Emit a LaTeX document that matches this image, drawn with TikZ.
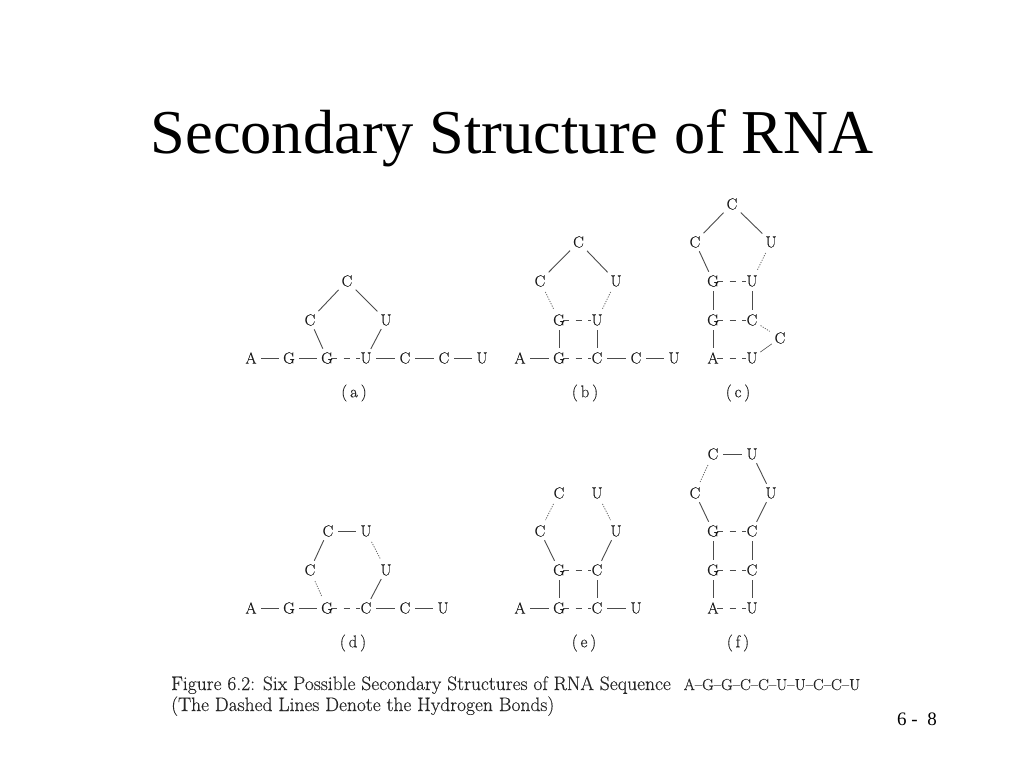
\documentclass[tikz,border=0pt]{standalone}
\usepackage{fontspec}
\newfontfamily\titlefont{Liberation Serif}
\newfontfamily\figfont[FakeBold=0.45,Ligatures=TeX]{Latin Modern Roman}
\newfontfamily\captfont[FakeBold=0.3,Ligatures=TeX]{Latin Modern Roman}
\tikzset{
  base/.style={circle,minimum size=20pt,inner sep=0pt,text=black!90,font=\figfont\fontsize{16}{16}\selectfont},
  lab/.style={inner sep=0pt,text=black!85,font=\captfont\fontsize{17}{17}\selectfont},
  capt/.style={inner sep=0pt,text=black!85,anchor=base west,font=\captfont\fontsize{19.5}{19.5}\selectfont},
  bond/.style={draw=black!70,line width=0.9pt},
  diag/.style={bond,shorten <=2pt,shorten >=2pt},
  hbond/.style={draw=black!70,line width=0.9pt,dash pattern=on 6pt off 6.5pt,shorten <=-6pt,shorten >=-4pt},
  dotbond/.style={draw=black!60,line width=0.8pt,dash pattern=on 1.2pt off 1.3pt,shorten <=2pt,shorten >=2pt}
}
\begin{document}
\begin{tikzpicture}[x=1pt,y=-1pt]
\useasboundingbox[fill=white] (0,0) rectangle (1024,768);
\node[inner sep=0pt,font=\titlefont\fontsize{62.4}{62.4}\selectfont] (title) at (512,138) {Secondary Structure of RNA};
% (a)
\foreach \n/\t/\x/\y in {at/C/347/281,al/C/310/320,ar/U/386/320,a1/A/251/358,a2/G/289/358,a3/G/327/358,a4/U/366/358,a5/C/405/358,a6/C/444/358,a7/U/482/358}
  \node[base] (\n) at (\x,\y) {\t};
\draw[diag] (at)--(al); \draw[diag] (at)--(ar); \draw[bond] (al)--(a3); \draw[bond] (ar)--(a4);
\draw[bond] (a1)--(a2); \draw[bond] (a2)--(a3); \draw[hbond] (a3)--(a4); \draw[bond] (a4)--(a5); \draw[bond] (a5)--(a6); \draw[bond] (a6)--(a7);
\node[lab] (la) at (354,393) {(\,a\,)};
% (b)
\foreach \n/\t/\x/\y in {bt/C/578.5/242,bl/C/540/281,br/U/616/281,bg/G/559/320,bu/U/597/320,b1/A/520/358,b2/G/559/358,b3/C/597/358,b4/C/636/358,b5/U/674/358}
  \node[base] (\n) at (\x,\y) {\t};
\draw[diag] (bt)--(bl); \draw[diag] (bt)--(br); \draw[dotbond] (bl)--(bg); \draw[dotbond] (br)--(bu);
\draw[hbond] (bg)--(bu); \draw[bond] (bg)--(b2); \draw[bond] (bu)--(b3);
\draw[bond] (b1)--(b2); \draw[hbond] (b2)--(b3); \draw[bond] (b3)--(b4); \draw[bond] (b4)--(b5);
\node[lab] (lb) at (585,393) {(\,b\,)};
% (c)
\foreach \n/\t/\x/\y in {ct/C/732/204,cl/C/695/242,cr/U/771/242,cg/G/713/281,cu/U/752/281,ch/G/713/320,cc/C/752/320,cx/C/780/338,ca/A/713/358,cb/U/752/358}
  \node[base] (\n) at (\x,\y) {\t};
\draw[diag] (ct)--(cl); \draw[diag] (ct)--(cr); \draw[bond] (cl)--(cg); \draw[dotbond] (cr)--(cu);
\draw[hbond] (cg)--(cu); \draw[bond] (cg)--(ch); \draw[bond] (cu)--(cc); \draw[hbond] (ch)--(cc);
\draw[bond] (ch)--(ca); \draw[hbond] (ca)--(cb);
\draw[dotbond,shorten <=0pt,shorten >=2pt] (cc)--(cx); \draw[bond,line width=0.6pt] (cx)--(cb);
\node[lab] (lc) at (738,393) {(\,c\,)};
% (d)
\foreach \n/\t/\x/\y in {dp/C/328/531,dq/U/366/531,dl/C/310/570,dr/U/386/570,d1/A/251/608,d2/G/289/608,d3/G/327/608,d4/C/366/608,d5/C/405/608,d6/U/443/608}
  \node[base] (\n) at (\x,\y) {\t};
\draw[bond] (dp)--(dq); \draw[bond] (dp)--(dl); \draw[dotbond] (dq)--(dr); \draw[dotbond] (dl)--(d3); \draw[bond] (dr)--(d4);
\draw[bond] (d1)--(d2); \draw[bond] (d2)--(d3); \draw[hbond] (d3)--(d4); \draw[bond] (d4)--(d5); \draw[bond] (d5)--(d6);
\node[lab] (ld) at (353,643) {(\,d\,)};
% (e)
\foreach \n/\t/\x/\y in {ep/C/559/493,eq/U/597/493,el/C/540/531,er/U/616/531,eg/G/559/570,ec/C/597/570,e1/A/520/608,e2/G/559/608,e3/C/597/608,e4/U/636/608}
  \node[base] (\n) at (\x,\y) {\t};
\draw[dotbond] (ep)--(el); \draw[dotbond] (eq)--(er); \draw[bond] (el)--(eg); \draw[bond] (er)--(ec);
\draw[hbond] (eg)--(ec); \draw[bond] (eg)--(e2); \draw[bond] (ec)--(e3);
\draw[bond] (e1)--(e2); \draw[hbond] (e2)--(e3); \draw[bond] (e3)--(e4);
\node[lab] (le) at (584,643) {(\,e\,)};
% (f)
\foreach \n/\t/\x/\y in {fp/C/713/454,fq/U/752/454,fl/C/695/493,fr/U/771/493,fg/G/713/531,fc/C/752/531,fh/G/713/570,fd/C/752/570,fa/A/713/608,fb/U/752/608}
  \node[base] (\n) at (\x,\y) {\t};
\draw[bond] (fp)--(fq); \draw[dotbond] (fp)--(fl); \draw[bond] (fq)--(fr); \draw[bond] (fl)--(fg); \draw[bond] (fr)--(fc);
\draw[hbond] (fg)--(fc); \draw[bond] (fg)--(fh); \draw[bond] (fc)--(fd); \draw[hbond] (fh)--(fd);
\draw[bond] (fh)--(fa); \draw[bond] (fd)--(fb); \draw[hbond] (fa)--(fb);
\node[lab] (lf) at (738,643) {(\,f\,)};
% caption
\node[capt] (cap1) at (171,690) {Figure 6.2: Six Possible Secondary Structures of RNA Sequence\hspace{7pt} {\fontsize{16}{16}\selectfont A--G--G--C--C--U--U--C--C--U}};
\node[capt] (cap2) at (171,711) {(The Dashed Lines Denote the Hydrogen Bonds)};
% page number
\node[inner sep=0pt,anchor=base west,font=\titlefont\fontsize{19}{19}\selectfont] (page) at (897,725) {6 -\ \ 8};
\end{tikzpicture}
\end{document}
